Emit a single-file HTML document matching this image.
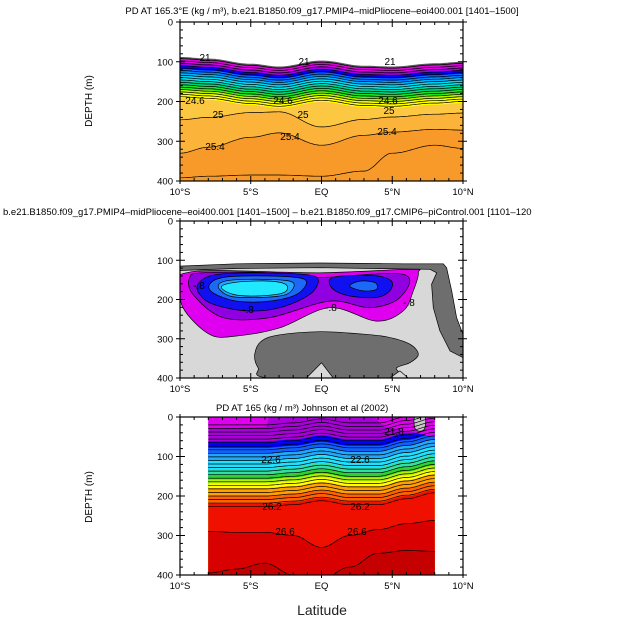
<!DOCTYPE html>
<html><head><meta charset="utf-8">
<style>
html,body{margin:0;padding:0;background:#fff;}
svg{display:block;font-family:"Liberation Sans","DejaVu Sans",sans-serif;}
</style></head>
<body>
<svg id="chart" width="625" height="626" viewBox="0 0 625 626" xmlns="http://www.w3.org/2000/svg">
<defs>
<clipPath id="clip0"><rect x="180" y="22" width="283" height="159"/></clipPath>
<clipPath id="clip1"><rect x="180" y="221" width="283" height="157"/></clipPath>
<clipPath id="clip2"><rect x="180" y="417" width="283" height="158"/></clipPath>
</defs>
<text x="322" y="14" font-size="9.5" text-anchor="middle">PD AT 165.3°E (kg / m³), b.e21.B1850.f09_g17.PMIP4–midPliocene–eoi400.001  [1401–1500]</text>
<text x="3" y="215" font-size="9.5">b.e21.B1850.f09_g17.PMIP4–midPliocene–eoi400.001  [1401–1500]  –  b.e21.B1850.f09_g17.CMIP6–piControl.001  [1101–120</text>
<text x="216" y="411" font-size="9.5">PD AT 165 (kg / m³) Johnson et al (2002)</text>
<text x="322" y="615" font-size="14" text-anchor="middle" fill="#222">Latitude</text>
<text x="92" y="101" font-size="10" text-anchor="middle" transform="rotate(-90 92 101)">DEPTH (m)</text>
<text x="92" y="497" font-size="10" text-anchor="middle" transform="rotate(-90 92 497)">DEPTH (m)</text>
<g id="g0" clip-path="url(#clip0)"></g>
<g id="g1" clip-path="url(#clip1)"></g>
<g id="g2" clip-path="url(#clip2)"></g>
<g id="plots"></g>
</svg>
<script>
// ---------- data ----------
const xTickLabels = ["10°S","5°S","EQ","5°N","10°N"];
const xTickLats = [-10,-5,0,5,10];
const yTickLabels = ["0","100","200","300","400"];
const yTickDepths = [0,100,200,300,400];

// Panel 1 (model PD)
const p1Lats = [-10,-8,-5,-3,0,3,5,8,10];
const p1Top = [88,92,105,112,97,110,112,104,100];
const p1Offsets = [0,5,14,22,30,38,48,60,70,80,90,104];
const p1Colors = ["#5a5a5a","#e000e0","#a000e0","#0000ff","#0070ff","#00b0ff","#00e0e8","#00d080","#20e020","#b0f000","#ffff00","#fcc842"];
const p1Line25 = [246,240,228,226,264,245,239,232,229];
const p1Line254 = [330,315,290,279,310,285,277,270,272];
const p1LineDeep = [392,388,385,385,388,375,330,310,318];

// Panel 2 (difference) regions
const p2Light = {lat:[-10,-0.12,8.14,8.14,7.78,7.9,8.37,9.08,10,10,-10], dep:[119,110,110,132,161,221,280,331,348,400,400]};
const p2Dark = {lat:[-10,-6.01,-0.12,5.78,8.61,8.84,9.2,9.55,10,10,9.08,8.37,7.9,7.78,8.14,7.67,-0.12,-6.01,-10], dep:[115,109,107,109,109,119,178,246,289,348,331,280,221,161,132,123,119,121,126]};
const p2Blob = {lat:[-3.66,-4.48,-4.72,-4.25,-2.95,-0.12,2.48,4.6,6.25,6.84,6.25,5.31,4.83], dep:[400,374,340,306,290,282,287,295,314,340,361,374,400]};
const p2Tri = {lat:[-1.06,0,0.83], dep:[400,361,400]};
const p2Bump = {lat:[4.83,5.54,6.13], dep:[400,382,400]};
const p2Magenta = {lat:[-10,-9.55,-7.19,-0.12,6.25,6.84,6.49,5.78,3.89,0.59,-2.95,-6.01,-7.9,-9.79], dep:[149,132,126,132,123,132,178,229,255,221,272,293,289,221]};
const p2Purple = {lat:[-9.32,-8.37,-3.66,-0.35,5.78,5.54,3.42,0.59,-3.66,-6.96,-9.08], dep:[144,132,132,144,136,195,221,204,246,246,187]};
const p2BlueL = {lat:[-8.73,-7.67,-4.83,-1.3,-0.24,-0.83,-2.95,-5.31,-7.67,-8.61], dep:[161,138,132,136,149,187,221,229,212,187]};
const p2BlueR = {lat:[0.59,1.53,3.89,4.95,4.83,3.89,2.0,0.83], dep:[149,140,140,153,178,195,191,174]};
const p2MidL = {lat:[-7.9,-6.96,-4.6,-1.77,-1.06,-1.77,-3.66,-6.01,-7.67], dep:[161,144,140,144,157,187,204,204,183]};
const p2LightBlue = {lat:[-7.31,-6.49,-3.66,-2.0,-2.48,-4.6,-6.49], dep:[166,151,149,157,187,195,191]};
const p2Cyan = {lat:[-7.08,-6.01,-3.66,-2.48,-2.71,-4.6,-6.25], dep:[168,156,153,163,183,191,187]};
const p2MidR = {lat:[2.0,2.71,3.77,3.89,2.95], dep:[166,153,157,174,178]};

// Panel 3 (observations)
const p3Lats = [-8,-6,-4,-2,0,2,4,6,8];
const p3Shift = [0,0,0,-5,-15,-5,-5,-20,-35];
const p3Offsets = [0,62,78,92,110,132,146,158,168,180,200,220];
const p3Colors = ["#a800d8","#0000ff","#1060ff","#20a8ff","#20e0ff","#30e0a0","#30d030","#b0f000","#ffff00","#ffa000","#ff6000","#f01000"];
const p3Line266 = [290,292,292,300,330,300,285,270,262];
const p3LineDeep = [395,385,370,400,410,380,345,338,340];
const p3MagL = {lat:[-8,-3.7,-3.9,-8], dep:[0,0,25,30]};
const p3MagR = {lat:[3.7,8,8,4.5], dep:[0,0,50,25]};
const p3Gray = {lat:[6.6,7.3,7.3,6.95,6.6], dep:[0,0,28,36,28]};

// ---------- axis helpers ----------
const NS='http://www.w3.org/2000/svg';
const panels=[{y0:22,y1:181},{y0:221,y1:378},{y0:417,y1:575}];
const groups=[document.getElementById('g0'),document.getElementById('g1'),document.getElementById('g2')];
const X0=180,X1=463;
function xs(lat){return X0+(lat+10)/20*(X1-X0);}
function ys(p,d){return p.y0+d/400*(p.y1-p.y0);}
const root=document.getElementById('plots');
let cur=root;
function el(tag,attrs,parent){const e=document.createElementNS(NS,tag);for(const k in attrs)e.setAttribute(k,attrs[k]);(parent||cur).appendChild(e);return e;}
function interp(lats,vals,lat){
  if(lat<=lats[0])return vals[0];
  for(let i=0;i<lats.length-1;i++){if(lat<=lats[i+1]){const t=(lat-lats[i])/(lats[i+1]-lats[i]);const s=(1-Math.cos(Math.PI*t))/2;return vals[i]+(vals[i+1]-vals[i])*s;}}
  return vals[vals.length-1];
}
function curvePts(p,lats,vals,add,l0,l1){const pts=[];for(let lat=l0;lat<=l1+1e-6;lat+=0.1){pts.push([xs(lat),ys(p,Math.max(0,Math.min(400,interp(lats,vals,lat)+add)))]);}return pts;}
function closedSmooth(p,obj){
  const pts=obj.lat.map((l,i)=>[xs(l),ys(p,obj.dep[i])]);const n=pts.length;let d='M'+pts[0][0].toFixed(1)+','+pts[0][1].toFixed(1);
  for(let i=0;i<n;i++){const p0=pts[(i-1+n)%n],p1=pts[i],p2=pts[(i+1)%n],p3=pts[(i+2)%n];
    const c1=[p1[0]+(p2[0]-p0[0])/6,p1[1]+(p2[1]-p0[1])/6],c2=[p2[0]-(p3[0]-p1[0])/6,p2[1]-(p3[1]-p1[1])/6];
    d+=' C'+c1.map(v=>v.toFixed(1))+' '+c2.map(v=>v.toFixed(1))+' '+p2.map(v=>v.toFixed(1));}
  return d+'Z';
}
function polyPath(p,obj){return 'M'+obj.lat.map((l,i)=>xs(l).toFixed(1)+','+ys(p,obj.dep[i]).toFixed(1)).join(' L')+'Z';}
function bandFill(p,lats,vals,add,color,l0,l1,name){
  const pts=curvePts(p,lats,vals,add,l0,l1);
  const d='M'+pts.map(q=>q[0].toFixed(1)+','+q[1].toFixed(1)).join(' L')+' L'+xs(l1)+','+p.y1+' L'+xs(l0)+','+p.y1+'Z';
  const e=el('path',{d:d,fill:color});
  
  
}
function contour(p,lats,vals,add,l0,l1,name){
  const pts=curvePts(p,lats,vals,add,l0,l1);
  const e=el('polyline',{points:pts.map(q=>q[0].toFixed(1)+','+q[1].toFixed(1)).join(' '),fill:'none',stroke:'#000','stroke-width':0.7});
  
  
}
function label(x,y,t,name){const e=el('text',{x:x,y:y,'font-size':10,'text-anchor':'middle'});e.textContent=t;
  
  }
function region(p,obj,color,name,smooth,stroke){
  const e=el('path',{d:smooth?closedSmooth(p,obj):polyPath(p,obj),fill:color,stroke:stroke||'#000','stroke-width':0.7,'stroke-linejoin':'round'});
  
  
}

// ---------- panel 1 ----------
const P1=panels[0];cur=groups[0];
p1Offsets.forEach((o,i)=>bandFill(P1,p1Lats,p1Top,o,p1Colors[i],-10,10,'p1-band-'+i));
bandFill(P1,p1Lats,p1Line25,0,'#fbb33a',-10,10,'p1-band-25');
bandFill(P1,p1Lats,p1Line254,0,'#f79a2a',-10,10,'p1-band-254');
for(let o=4;o<=104;o+=6){contour(P1,p1Lats,p1Top,o,-10,10,'p1-contour');}
contour(P1,p1Lats,p1Line25,0,-10,10,'p1-contour-25');
contour(P1,p1Lats,p1Line254,0,-10,10,'p1-contour-254');
contour(P1,p1Lats,p1LineDeep,0,-10,10,'p1-contour-deep');
label(205,61,'21','p1-label');label(304,65,'21','p1-label');label(390,65,'21','p1-label');
label(215,150,'25.4','p1-label');label(290,140,'25.4','p1-label');label(387,135,'25.4','p1-label');
label(218,118,'25','p1-label');label(303,118,'25','p1-label');label(389,114,'25','p1-label');
label(195,104,'24.6','p1-label');label(283,104,'24.6','p1-label');label(388,104,'24.6','p1-label');

// ---------- panel 2 ----------
const P2=panels[1];cur=groups[1];
region(P2,p2Light,'#d8d8d8','p2-region-light',false,'none');
region(P2,p2Dark,'#6e6e6e','p2-region-dark-top',false);
region(P2,p2Blob,'#6e6e6e','p2-region-dark-blob',true);
region(P2,p2Tri,'#d8d8d8','p2-region-light-tri',false);
region(P2,p2Bump,'#d8d8d8','p2-region-light-bump',false);
region(P2,p2Magenta,'#e000f0','p2-region-magenta',true);
region(P2,p2Purple,'#9000e0','p2-region-purple',true);
region(P2,p2BlueL,'#1010f0','p2-region-blue-left',true);
region(P2,p2BlueR,'#1010f0','p2-region-blue-right',true);
region(P2,p2MidL,'#1e68f8','p2-region-midblue-left',true);
region(P2,p2MidR,'#1e68f8','p2-region-midblue-right',true);
region(P2,p2LightBlue,'#20a8ff','p2-region-lightblue',true);
region(P2,p2Cyan,'#20e8ff','p2-region-cyan',true);
label(199,289,'-.8','p2-label');label(248,313,'-.8','p2-label');label(331,311,'-.8','p2-label');label(409,306,'-.8','p2-label');

// ---------- panel 3 ----------
const P3=panels[2];cur=groups[2];
const L0=-8,L1=8;
p3Offsets.forEach((o,i)=>bandFill(P3,p3Lats,p3Shift,o,p3Colors[i],L0,L1,'p3-band-'+i));
bandFill(P3,p3Lats,p3Line266,0,'#d80000',L0,L1,'p3-band-266');
bandFill(P3,p3Lats,p3LineDeep,0,'#c40000',L0,L1,'p3-band-deep');
region(P3,p3MagL,'#e000f0','p3-magenta-left',false,'none');
region(P3,p3MagR,'#e000f0','p3-magenta-right',false,'none');
region(P3,p3Gray,'#c8c8c8','p3-gray-patch',true);
for(let o=20;o<=235;o+=9){contour(P3,p3Lats,p3Shift,o,L0,L1,'p3-contour');}
contour(P3,p3Lats,p3Line266,0,L0,L1,'p3-contour-266');
contour(P3,p3Lats,p3LineDeep,0,L0,L1,'p3-contour-deep');
label(394,435,'21.8','p3-label');label(271,463,'22.6','p3-label');label(360,463,'22.6','p3-label');
label(272,510,'26.2','p3-label');label(360,510,'26.2','p3-label');label(285,535,'26.6','p3-label');label(357,535,'26.6','p3-label');

// ---------- axes ----------
cur=root;
panels.forEach((p,pi)=>{
  const f=el('rect',{x:X0,y:p.y0,width:X1-X0,height:p.y1-p.y0,fill:'none',stroke:'#000','stroke-width':1.2});
  
  
  for(let lat=-10;lat<=10;lat++){const major=lat%5===0;const len=major?5:3;const x=xs(lat);
    el('line',{x1:x,y1:p.y0-(major?3:0),x2:x,y2:p.y0+len,stroke:'#000','stroke-width':1});
    el('line',{x1:x,y1:p.y1+(major?3:0),x2:x,y2:p.y1-len,stroke:'#000','stroke-width':1});}
  for(let d=0;d<=400;d+=20){const major=d%100===0;const len=major?5:3;const y=ys(p,d);
    el('line',{x1:X0-(major?4:0),y1:y,x2:X0+len,y2:y,stroke:'#000','stroke-width':1});
    el('line',{x1:X1+(major?4:0),y1:y,x2:X1-len,y2:y,stroke:'#000','stroke-width':1});}
  yTickDepths.forEach((d,i)=>{const t=el('text',{x:X0-7,y:ys(p,d)+3.5,'font-size':9.5,'text-anchor':'end'});t.textContent=yTickLabels[i];
    
    });
  xTickLats.forEach((l,i)=>{const t=el('text',{x:xs(l),y:p.y1+14,'font-size':9.5,'text-anchor':'middle'});t.textContent=xTickLabels[i];
    
    });
});
</script>
</body></html>
